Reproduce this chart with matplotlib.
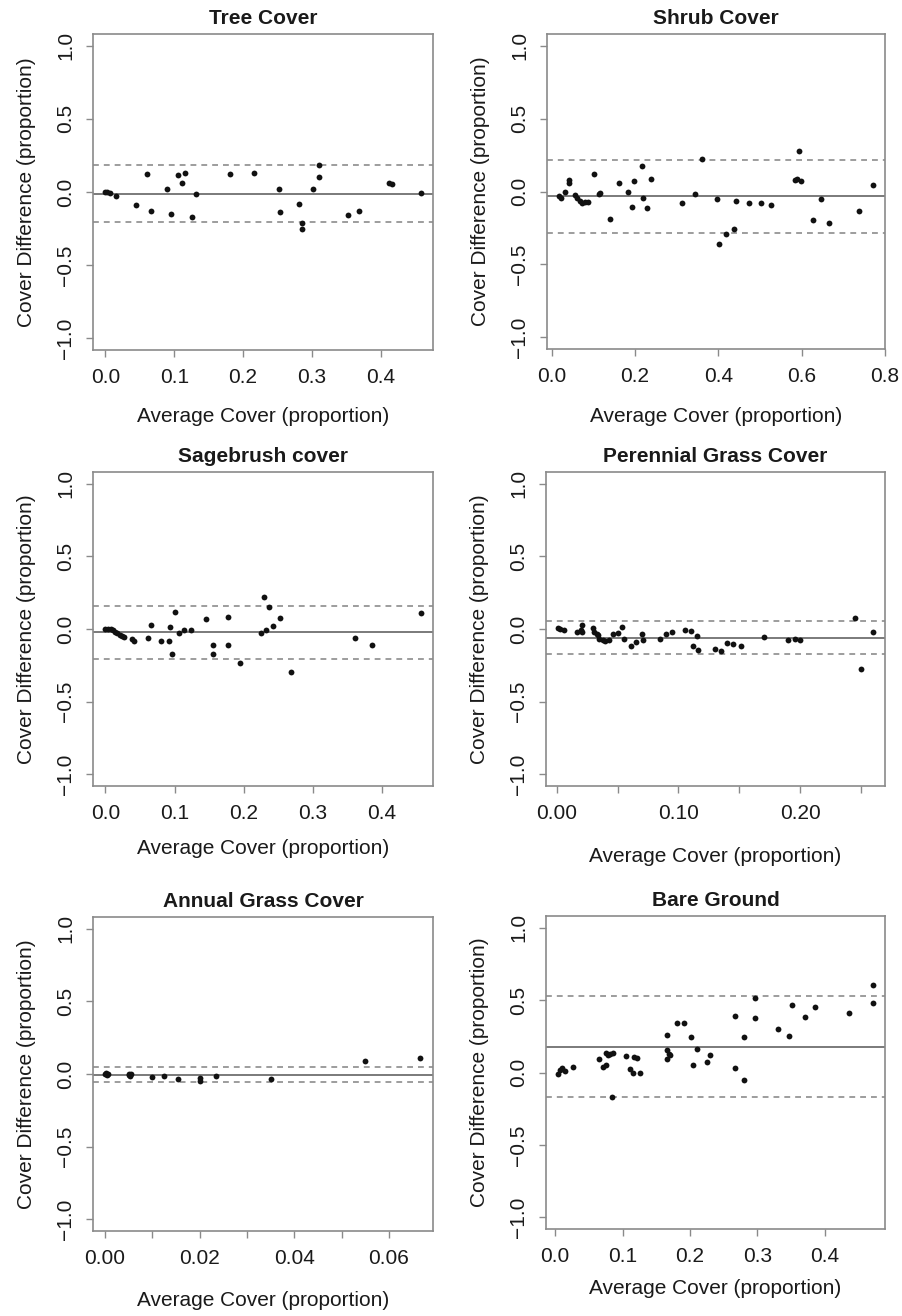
"""Bland-Altman style panels: cover difference vs average cover for six cover classes."""

import matplotlib

matplotlib.use("Agg")
import matplotlib.pyplot as plt
import numpy as np

plt.rcParams["font.family"] = ["Liberation Sans", "DejaVu Sans"]
plt.rcParams["axes.unicode_minus"] = True

TEXT = "#1a1a1a"
FRAME = "#8a8a8a"

# --- data (average cover, difference) per cover class ---
tree_x = [0.000, 0.003, 0.006, 0.015, 0.045, 0.060, 0.066, 0.090, 0.096, 0.105,
          0.111, 0.116, 0.126, 0.131, 0.181, 0.216, 0.252, 0.253, 0.282, 0.286,
          0.286, 0.301, 0.311, 0.311, 0.352, 0.368, 0.412, 0.417, 0.458]
tree_y = [0.000, 0.000, -0.005, -0.027, -0.092, 0.124, -0.130, 0.023, -0.151, 0.114,
          0.062, 0.130, -0.172, -0.016, 0.124, 0.130, 0.023, -0.140, -0.080, -0.211,
          -0.252, 0.023, 0.183, 0.103, -0.160, -0.128, 0.064, 0.053, -0.007]

shrub_x = [0.018, 0.022, 0.033, 0.042, 0.042, 0.057, 0.061, 0.067, 0.072, 0.079,
           0.087, 0.102, 0.113, 0.117, 0.141, 0.162, 0.183, 0.193, 0.198, 0.218,
           0.220, 0.228, 0.238, 0.313, 0.343, 0.362, 0.397, 0.402, 0.419, 0.437,
           0.442, 0.473, 0.502, 0.527, 0.583, 0.588, 0.593, 0.598, 0.627, 0.647,
           0.666, 0.737, 0.772]
shrub_y = [-0.032, -0.046, 0.000, 0.080, 0.059, -0.025, -0.046, -0.064, -0.078, -0.069,
           -0.069, 0.121, -0.016, -0.009, -0.188, 0.059, 0.000, -0.103, 0.071, 0.172,
           -0.046, -0.114, 0.089, -0.080, -0.016, 0.220, -0.050, -0.362, -0.288, -0.254,
           -0.062, -0.080, -0.080, -0.092, 0.080, 0.085, 0.281, 0.071, -0.195, -0.050,
           -0.213, -0.135, 0.043]

sage_x = [0.000, 0.003, 0.008, 0.011, 0.014, 0.017, 0.021, 0.024, 0.027, 0.038,
          0.041, 0.062, 0.066, 0.080, 0.092, 0.093, 0.096, 0.100, 0.106, 0.114,
          0.124, 0.145, 0.156, 0.156, 0.178, 0.178, 0.195, 0.225, 0.230, 0.232,
          0.236, 0.242, 0.253, 0.268, 0.361, 0.386, 0.456]
sage_y = [0.000, 0.000, 0.000, -0.009, -0.021, -0.030, -0.039, -0.046, -0.053, -0.071,
          -0.080, -0.064, 0.030, -0.080, -0.080, 0.014, -0.170, 0.119, -0.030, -0.009,
          -0.009, 0.071, -0.110, -0.170, 0.085, -0.110, -0.231, -0.030, 0.220, -0.009,
          0.151, 0.018, 0.076, -0.293, -0.062, -0.110, 0.108]

grass_x = [0.001, 0.003, 0.006, 0.017, 0.020, 0.021, 0.021, 0.030, 0.031, 0.033,
           0.034, 0.035, 0.038, 0.040, 0.043, 0.046, 0.050, 0.054, 0.055, 0.061,
           0.065, 0.070, 0.071, 0.085, 0.090, 0.095, 0.105, 0.110, 0.112, 0.115,
           0.116, 0.130, 0.135, 0.140, 0.145, 0.151, 0.170, 0.190, 0.196, 0.200,
           0.245, 0.250, 0.260]
grass_y = [0.007, 0.000, -0.009, -0.021, -0.009, 0.030, -0.021, 0.005, -0.021, -0.032,
           -0.041, -0.067, -0.078, -0.080, -0.074, -0.037, -0.030, 0.014, -0.071, -0.115,
           -0.092, -0.037, -0.078, -0.069, -0.034, -0.023, -0.007, -0.014, -0.120, -0.046,
           -0.147, -0.136, -0.152, -0.094, -0.106, -0.115, -0.057, -0.076, -0.067, -0.078,
           0.074, -0.276, -0.018]

annual_x = [0.0000, 0.0003, 0.0005, 0.0007, 0.0050, 0.0052, 0.0055, 0.0054, 0.0100,
            0.0125, 0.0155, 0.0200, 0.0200, 0.0234, 0.0350, 0.0550, 0.0666]
annual_y = [0.000, 0.004, -0.004, 0.000, 0.003, -0.004, 0.000, -0.012, -0.023,
            -0.016, -0.034, -0.027, -0.046, -0.014, -0.034, 0.087, 0.110]

bare_x = [0.004, 0.008, 0.011, 0.015, 0.026, 0.065, 0.071, 0.075, 0.075, 0.079,
          0.082, 0.085, 0.086, 0.105, 0.111, 0.115, 0.117, 0.121, 0.126, 0.166,
          0.166, 0.166, 0.169, 0.171, 0.181, 0.191, 0.201, 0.205, 0.210, 0.225,
          0.230, 0.266, 0.266, 0.280, 0.280, 0.296, 0.296, 0.331, 0.346, 0.351,
          0.371, 0.386, 0.436, 0.471, 0.471]
bare_y = [-0.007, 0.018, 0.028, 0.009, 0.037, 0.092, 0.041, 0.055, 0.133, 0.119,
          0.128, -0.167, 0.138, 0.115, 0.023, -0.005, 0.110, 0.101, -0.005, 0.257,
          0.156, 0.092, 0.128, 0.124, 0.342, 0.342, 0.245, 0.055, 0.163, 0.073,
          0.124, 0.392, 0.032, 0.243, -0.055, 0.514, 0.374, 0.303, 0.252, 0.463,
          0.383, 0.452, 0.411, 0.603, 0.482]

titles = ["Tree Cover", "Shrub Cover", "Sagebrush cover",
          "Perennial Grass Cover", "Annual Grass Cover", "Bare Ground"]
# mean difference and lower / upper limits of agreement
bias = [-0.011, -0.032, -0.021, -0.060, -0.004, 0.177]
lower = [-0.205, -0.282, -0.206, -0.175, -0.053, -0.172]
upper = [0.183, 0.215, 0.160, 0.055, 0.046, 0.528]

xs = [tree_x, shrub_x, sage_x, grass_x, annual_x, bare_x]
ys = [tree_y, shrub_y, sage_y, grass_y, annual_y, bare_y]

# x ticks, labelled ticks
xticks = [np.arange(0, 0.41, 0.1), np.arange(0, 0.81, 0.2), np.arange(0, 0.41, 0.1),
          np.arange(0, 0.251, 0.05), np.arange(0, 0.0601, 0.01), np.arange(0, 0.41, 0.1)]
xticklabels = [["0.0", "0.1", "0.2", "0.3", "0.4"],
               ["0.0", "0.2", "0.4", "0.6", "0.8"],
               ["0.0", "0.1", "0.2", "0.3", "0.4"],
               ["0.00", "", "0.10", "", "0.20", ""],
               ["0.00", "", "0.02", "", "0.04", "", "0.06"],
               ["0.0", "0.1", "0.2", "0.3", "0.4"]]
xlims = [(-0.018, 0.476), (-0.011, 0.80), (-0.018, 0.474),
         (-0.0088, 0.2696), (-0.0025, 0.0693), (-0.0134, 0.489)]

# panel boxes in pixels: left, top, right, bottom, x-label centre, y-label centre
W, H = 903, 1316
boxes = [(93, 34, 433, 350, 416), (547, 34, 885, 349, 416),
         (93, 472, 433, 786, 848), (546, 472, 885, 786, 856),
         (93, 917, 433, 1231, 1300), (546, 916, 885, 1229, 1288)]

fig = plt.figure(figsize=(W / 100, H / 100), dpi=100)

for i in range(6):
    l, t, r, b, xlab_y = boxes[i]
    ax = fig.add_axes([l / W, 1 - b / H, (r - l) / W, (b - t) / H])

    ax.axhline(bias[i], color="#7a7a7a", lw=1.4, zorder=1)
    for lim in (lower[i], upper[i]):
        ax.axhline(lim, color="#8c8c8c", lw=1.2, ls=(0, (3.5, 3)), zorder=1)
    ax.plot(xs[i], ys[i], "o", color="#111111", ms=4.2, mew=0, zorder=3)

    ax.set_xlim(*xlims[i])
    ax.set_ylim(-1.08, 1.08)
    ax.set_xticks(xticks[i])
    ax.set_xticklabels(xticklabels[i])
    ax.set_yticks([-1.0, -0.5, 0.0, 0.5, 1.0])
    ax.set_yticklabels(["\u22121.0", "\u22120.5", "0.0", "0.5", "1.0"],
                       rotation=90, va="center")
    ax.tick_params(direction="out", length=5, width=1, color=FRAME,
                   labelsize=15, labelcolor=TEXT)
    ax.tick_params(axis="y", pad=8)
    ax.tick_params(axis="x", pad=8)
    for sp in ax.spines.values():
        sp.set_color(FRAME)
        sp.set_linewidth(1.2)

    ax.set_title(titles[i], fontsize=15, fontweight="bold", color=TEXT, pad=7)
    ax.set_ylabel("Cover Difference (proportion)", fontsize=15, color=TEXT)
    ax.yaxis.label.set_va("center")
    ax.yaxis.set_label_coords(-66 / (r - l), 0.5)
    ax.set_xlabel("Average Cover (proportion)", fontsize=15, color=TEXT)
    ax.xaxis.label.set_va("center")
    ax.xaxis.set_label_coords(0.5, -(xlab_y - b) / (b - t))

fig.savefig("out.png", dpi=100, facecolor="white")
